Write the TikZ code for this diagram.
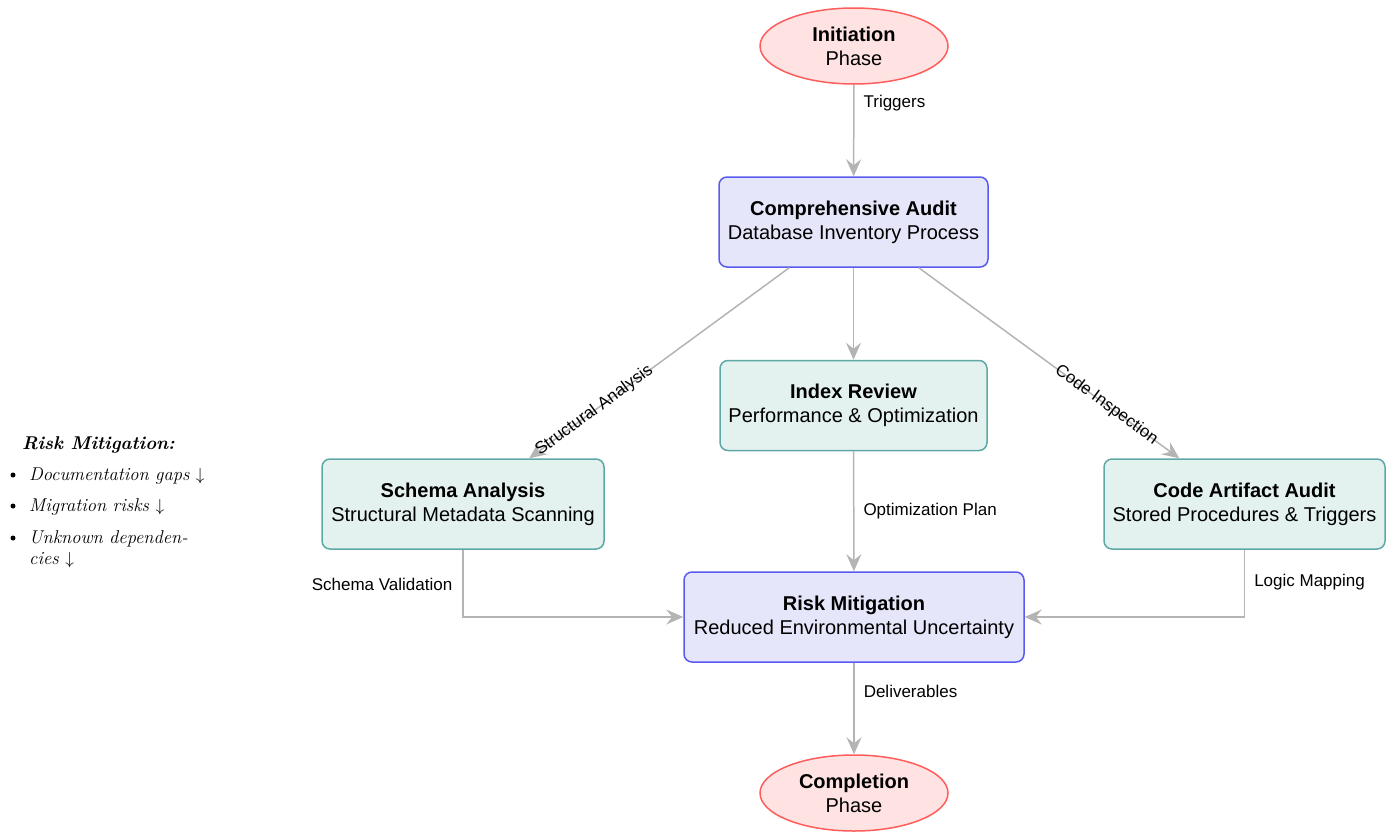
\documentclass[tikz,border=0pt]{standalone}
\usepackage{fontspec}
\setsansfont{Liberation Sans}
\usetikzlibrary{shapes.geometric,arrows.meta}
\definecolor{ellfill}{HTML}{FFE3E3}
\definecolor{elldraw}{HTML}{FF5C5C}
\definecolor{bluefill}{HTML}{E6E6FA}
\definecolor{bluedraw}{HTML}{5A5AF0}
\definecolor{tealfill}{HTML}{E3F1EF}
\definecolor{tealdraw}{HTML}{5EA9A6}
\definecolor{edgecol}{HTML}{B4B4B4}
\tikzset{
  phase/.style={ellipse, draw=elldraw, fill=ellfill, line width=1.5pt, minimum width=188pt, minimum height=76pt, inner sep=0pt, align=center, font=\sffamily\fontsize{20}{24}\selectfont},
  mainbox/.style={rectangle, rounded corners=8pt, draw=bluedraw, fill=bluefill, line width=1.5pt, minimum height=90pt, inner sep=0pt, align=center, font=\sffamily\fontsize{20}{24}\selectfont},
  subbox/.style={rectangle, rounded corners=8pt, draw=tealdraw, fill=tealfill, line width=1.5pt, minimum height=90pt, inner sep=0pt, align=center, font=\sffamily\fontsize{20}{24}\selectfont},
  conn/.style={draw=edgecol, line width=1.5pt, -{Stealth[length=17pt,width=15pt,inset=6pt]}},
  elabel/.style={font=\sffamily\fontsize{17}{20}\selectfont, inner sep=0pt, text=black},
  legend/.style={font=\itshape\fontsize{18.5}{22}\selectfont, inner sep=0pt, anchor=west}
}
\begin{document}
\begin{tikzpicture}[x=1pt,y=-1pt]
\useasboundingbox (0,0) rectangle (1392,833);
\node[phase] (init) at (854,46) {\textbf{Initiation}\\Phase};
\node[mainbox, minimum width=269pt] (audit) at (853.5,222) {\textbf{Comprehensive Audit}\\Database Inventory Process};
\node[subbox, minimum width=267pt] (index) at (853.5,405.5) {\textbf{Index Review}\\Performance \& Optimization};
\node[subbox, minimum width=282pt] (schema) at (463,504) {\textbf{Schema Analysis}\\Structural Metadata Scanning};
\node[subbox, minimum width=281pt] (code) at (1244.5,504) {\textbf{Code Artifact Audit}\\Stored Procedures \& Triggers};
\node[mainbox, minimum width=340pt] (risk) at (854,617) {\textbf{Risk Mitigation}\\Reduced Environmental Uncertainty};
\node[phase] (done) at (854,793) {\textbf{Completion}\\Phase};

\draw[conn] (init) -- node[elabel, anchor=west, pos=0.2, xshift=9pt] {Triggers} (audit);
\draw[conn] (audit) -- (index);
\draw[conn] ([xshift=71pt]audit.south west) -- node[elabel, sloped, pos=0.75] {Structural Analysis} ([xshift=208pt]schema.north west);
\draw[conn] ([xshift=-70pt]audit.south east) -- node[elabel, sloped, pos=0.72] {Code Inspection} ([xshift=76pt]code.north west);
\draw[conn] (index) -- node[elabel, anchor=west, pos=0.5, xshift=9pt] {Optimization Plan} (risk);
\draw[conn] (schema.south) |- node[elabel, anchor=east, pos=0.26, xshift=-10pt] {Schema Validation} (risk.west);
\draw[conn] (code.south) |- node[elabel, anchor=west, pos=0.24, xshift=9pt] {Logic Mapping} (risk.east);
\draw[conn] (risk) -- node[elabel, anchor=west, pos=0.31, xshift=9pt] {Deliverables} (done);

\node[legend, font=\bfseries\itshape\fontsize{18.5}{22}\selectfont] (lt) at (22,445) {Risk Mitigation:};
\node[legend] (l1) at (29,476) {Documentation gaps $\downarrow$};
\node[legend] (l2) at (29,507) {Migration risks $\downarrow$};
\node[legend] (l3) at (29,539) {Unknown dependen-};
\node[legend] (l4) at (29,560) {cies $\downarrow$};
\foreach \n in {l1,l2,l3}{\fill ([xshift=-16pt,yshift=1pt]\n.west) circle (2.5pt);}
\end{tikzpicture}
\end{document}
